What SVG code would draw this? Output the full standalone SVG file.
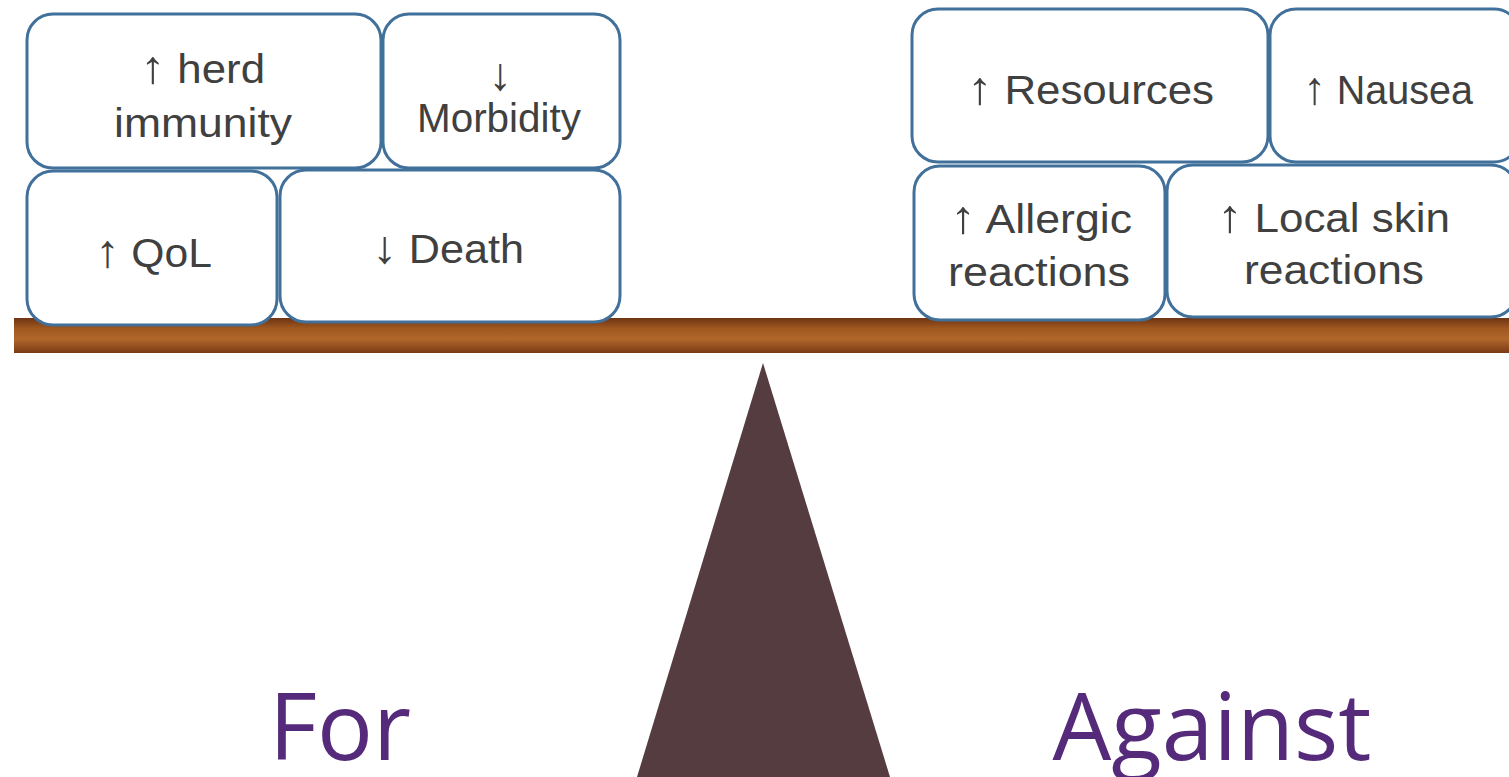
<svg xmlns="http://www.w3.org/2000/svg" width="1509" height="777" viewBox="0 0 1509 777">
<style>
.box{fill:#fff;stroke:#41709a;stroke-width:3}
.t{font-family:"Liberation Sans",Arial,sans-serif;fill:#404040;font-size:40px}
.a{font-size:1.15em}
.big{font-family:"Open Sans","Noto Sans",sans-serif;fill:#552a7a;font-size:93px;text-anchor:middle}
</style>
<defs>
<linearGradient id="wood" x1="0" y1="0" x2="0" y2="1">
<stop offset="0" stop-color="#6e3413"/>
<stop offset="0.3" stop-color="#a0581f"/>
<stop offset="0.6" stop-color="#b2672a"/>
<stop offset="1" stop-color="#7a3a16"/>
</linearGradient>
</defs>
<rect width="1509" height="777" fill="#fff"/>
<rect id="plank" x="14" y="318" width="1495" height="35" fill="url(#wood)"/>
<polygon id="fulcrum" points="763,363 637,777 890,777" fill="#553c40"/>
<g id="herd"><rect class="box" x="27" y="14" width="354" height="154" rx="26"/><text class="t" x="140" y="83" textLength="125" lengthAdjust="spacingAndGlyphs"><tspan class="a">↑</tspan> herd</text><text class="t" x="114" y="137" textLength="178" lengthAdjust="spacingAndGlyphs">immunity</text></g>
<g id="morbidity"><rect class="box" x="383" y="14" width="237" height="154" rx="26"/><text class="t" x="500" y="90" text-anchor="middle"><tspan class="a">↓</tspan></text><text class="t" x="417" y="132" textLength="164" lengthAdjust="spacingAndGlyphs">Morbidity</text></g>
<g id="qol"><rect class="box" x="27" y="171" width="250" height="154" rx="26"/><text class="t" x="95" y="267" textLength="117" lengthAdjust="spacingAndGlyphs"><tspan class="a">↑</tspan> QoL</text></g>
<g id="death"><rect class="box" x="280" y="170" width="340" height="152" rx="26"/><text class="t" x="372" y="263" textLength="152" lengthAdjust="spacingAndGlyphs"><tspan class="a">↓</tspan> Death</text></g>
<g id="resources"><rect class="box" x="912" y="9" width="356" height="153" rx="26"/><text class="t" x="967" y="104" textLength="247" lengthAdjust="spacingAndGlyphs"><tspan class="a">↑</tspan> Resources</text></g>
<g id="nausea"><rect class="box" x="1270" y="9" width="250" height="153" rx="26"/><text class="t" x="1303" y="104" textLength="170" lengthAdjust="spacingAndGlyphs"><tspan class="a">↑</tspan> Nausea</text></g>
<g id="allergic"><rect class="box" x="914" y="166" width="251" height="154" rx="26"/><text class="t" x="950" y="233" textLength="182" lengthAdjust="spacingAndGlyphs"><tspan class="a">↑</tspan> Allergic</text><text class="t" x="948" y="286" textLength="182" lengthAdjust="spacingAndGlyphs">reactions</text></g>
<g id="localskin"><rect class="box" x="1167" y="165" width="350" height="152" rx="26"/><text class="t" x="1217" y="232" textLength="233" lengthAdjust="spacingAndGlyphs"><tspan class="a">↑</tspan> Local skin</text><text class="t" x="1244" y="284" textLength="180" lengthAdjust="spacingAndGlyphs">reactions</text></g>
<text class="big" x="340" y="760">For</text>
<text class="big" x="1212" y="760">Against</text>
<g id="connectors"/>
</svg>
